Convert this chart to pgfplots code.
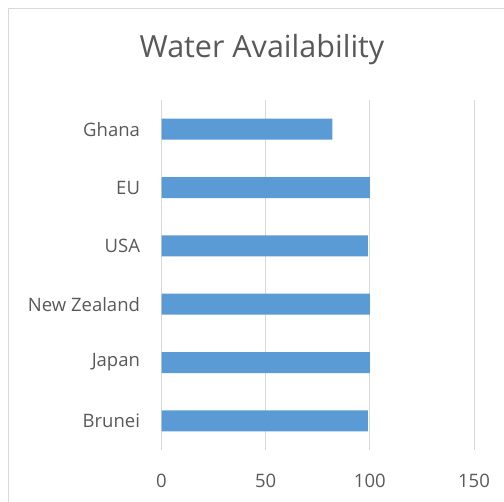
\documentclass[border=0pt]{standalone}
\usepackage{fontspec}
\setmainfont{Open Sans}
\usepackage{pgfplots}
\pgfplotsset{compat=1.18}
\definecolor{barblue}{HTML}{5B9BD5}
\definecolor{gridgray}{HTML}{D9D9D9}
\definecolor{textgray}{HTML}{595959}
\begin{document}
\begin{tikzpicture}[x=1bp,y=1bp]
\useasboundingbox (0,0) rectangle (504,-502);
\draw[gridgray, line width=1bp] (8.5,-502) |- (504,-8.5);
\node[font=\fontsize{30.5bp}{36bp}\selectfont, text=textgray] at (262,-50) {Water Availability};
\begin{axis}[
  at={(161.5bp,-450bp)}, anchor=south west,
  scale only axis, width=312.5bp, height=350bp,
  xbar, bar width=21bp,
  xmin=0, xmax=150, ymin=-0.5, ymax=5.5,
  xtick={0,50,100,150},
  ytick={0,1,2,3,4,5},
  yticklabels={Brunei,Japan,New Zealand,USA,EU,Ghana},
  axis line style={draw=none},
  major tick length=0pt,
  xmajorgrids, major grid style={gridgray, line width=1bp},
  ymajorgrids=false,
  tick label style={font=\fontsize{18.5bp}{22bp}\selectfont, text=textgray},
  /pgf/number format/assume math mode=true,
  xticklabel style={yshift=-21bp},
  yticklabel style={xshift=-18bp},
]
\addplot[fill=barblue, draw=none] coordinates {
  (99,0) (100,1) (100,2) (99,3) (100,4) (82,5)
};
\end{axis}
\end{tikzpicture}
\end{document}
